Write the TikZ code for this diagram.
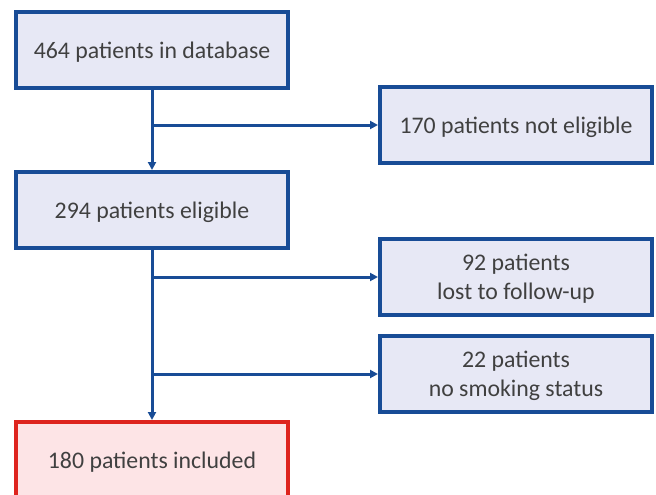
\documentclass[tikz,border=0pt]{standalone}
\usepackage{fontspec}
\setmainfont{Carlito}
\usetikzlibrary{arrows.meta,positioning}

\definecolor{boxblue}{RGB}{24,76,150}
\definecolor{boxfill}{RGB}{231,232,245}
\definecolor{inclred}{RGB}{222,36,30}
\definecolor{inclfill}{RGB}{253,228,230}
\definecolor{txtgray}{RGB}{64,64,64}

\begin{document}
\begin{tikzpicture}[
  x=1pt, y=-1pt,
  stage/.style={draw=boxblue, line width=4pt, fill=boxfill, minimum width=272pt, minimum height=76pt,
    inner sep=0pt, align=center, text=txtgray, text depth=0pt, font=\fontsize{23.8}{29}\selectfont},
  final/.style={stage, draw=inclred, fill=inclfill},
  arr/.style={-{Triangle[length=8pt, width=8pt]}, draw=boxblue, line width=3pt},
]
  \clip (0,0) rectangle (656,495);
  \fill[white] (0,0) rectangle (656,495);

  \node[stage] (database) at (152,50) {464 patients in database};
  \node[stage] (eligible) at (152,210) {294 patients eligible};
  \node[final] (included) at (152,460) {180 patients included};

  \node[stage] (noteligible) at (516,125) {170 patients not eligible};
  \node[stage] (lost) at (516,277) {92 patients\\lost to follow-up};
  \node[stage] (nosmoking) at (516,374) {22 patients\\no smoking status};

  \draw[arr] (database) -- (eligible);
  \draw[arr] (database.south |- noteligible.west) -- (noteligible.west);
  \draw[arr] (eligible) -- (included);
  \draw[arr] (eligible.south |- lost.west) -- (lost.west);
  \draw[arr] (eligible.south |- nosmoking.west) -- (nosmoking.west);
\end{tikzpicture}
\end{document}
